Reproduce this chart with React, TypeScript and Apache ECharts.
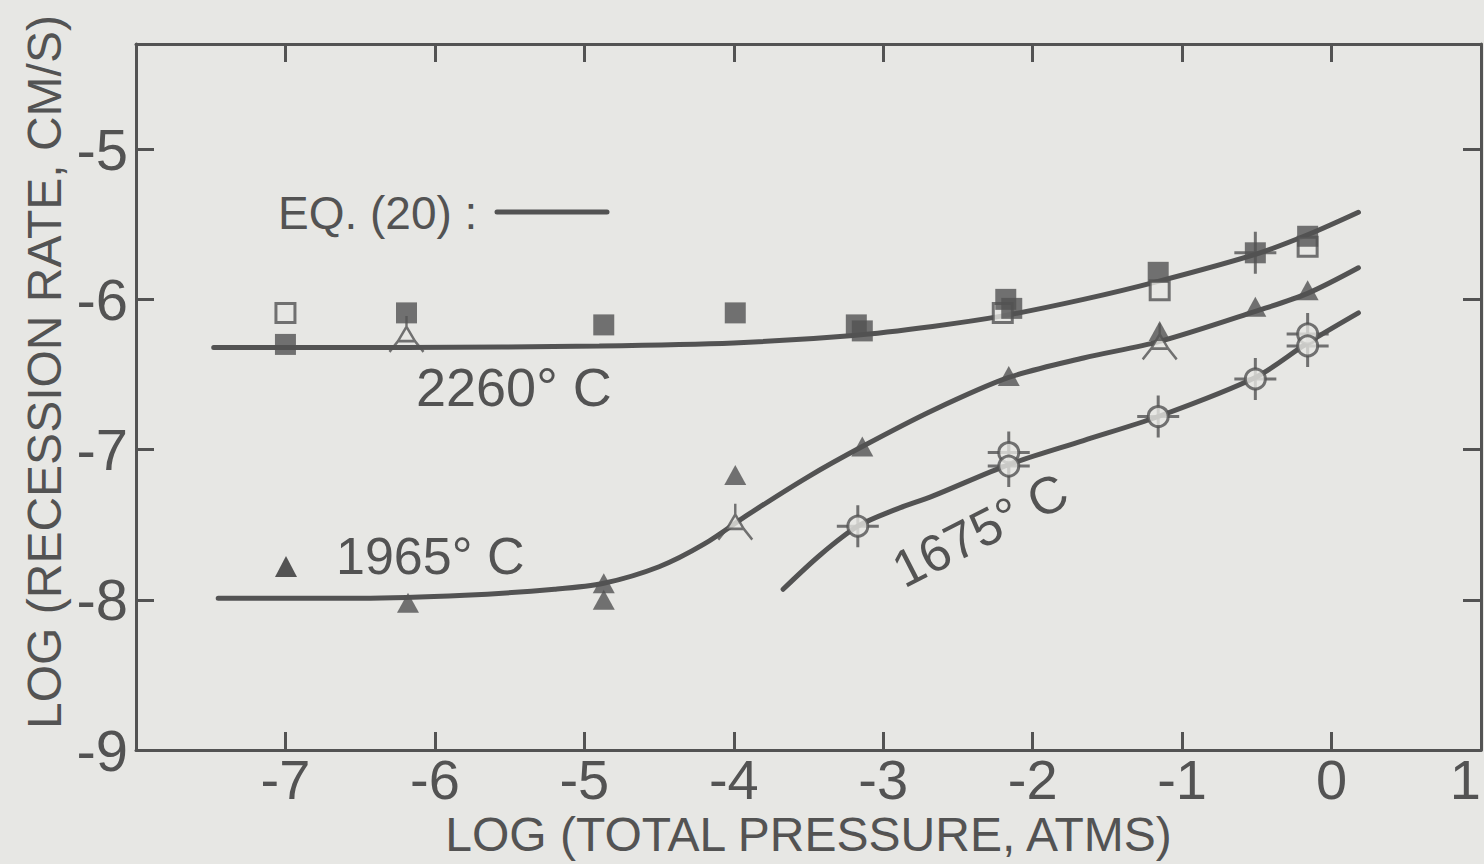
import React, { useEffect, useRef } from "react";
import * as echarts from "echarts";

// ---------- data ----------
const xTickValues = [-7, -6, -5, -4, -3, -2, -1, 0, 1];
const yTickValues = [-9, -8, -7, -6, -5];

// 2260 °C  filled squares
const x2260Filled = [-7.0, -6.19, -4.87, -3.99, -3.18, -3.14, -2.18, -2.14, -1.16, -0.51, -0.16];
const y2260Filled = [-6.3, -6.09, -6.17, -6.09, -6.17, -6.21, -6.0, -6.06, -5.82, -5.69, -5.58];
// 2260 °C  open squares
const x2260Open = [-7.0, -2.2, -1.15, -0.16];
const y2260Open = [-6.09, -6.09, -5.94, -5.65];

// 1965 °C  filled triangles
const x1965Filled = [-6.18, -4.87, -4.87, -3.99, -3.14, -2.16, -1.15, -0.51, -0.16];
const y1965Filled = [-8.02, -7.89, -8.0, -7.17, -6.98, -6.51, -6.21, -6.05, -5.94];
// open triangles with whiskers
const xOpenTri = [-6.19, -3.99, -1.15];
const yOpenTri = [-6.23, -7.48, -6.28];

// 1675 °C  open circles
const x1675 = [-3.17, -2.16, -2.16, -1.16, -0.51, -0.16, -0.16];
const y1675 = [-7.51, -7.02, -7.11, -6.78, -6.53, -6.23, -6.31];

// points carrying a cross (scatter bars)
const xCross = [-3.17, -2.16, -2.16, -1.16, -0.51, -0.16, -0.16, -0.51];
const yCross = [-7.51, -7.02, -7.11, -6.78, -6.53, -6.23, -6.31, -5.69];

// Eq. (20) curves
const curve2260X = [-7.48, -6.2, -4.9, -4.0, -3.2, -2.67, -2.2, -1.66, -1.16, -0.51, -0.16, 0.18];
const curve2260Y = [-6.32, -6.32, -6.31, -6.29, -6.24, -6.18, -6.11, -6.0, -5.88, -5.7, -5.57, -5.42];

const curve1965X = [-7.45, -6.5, -5.8, -5.2, -4.87, -4.5, -4.2, -3.9, -3.5, -3.14, -2.67, -2.16, -1.66, -1.15, -0.51, -0.16, 0.18];
const curve1965Y = [-7.99, -7.99, -7.97, -7.93, -7.89, -7.78, -7.63, -7.43, -7.18, -6.98, -6.74, -6.52, -6.39, -6.28, -6.08, -5.96, -5.79];

const curve1675X = [-3.67, -3.42, -3.17, -2.92, -2.67, -2.16, -1.66, -1.16, -0.51, -0.16, 0.18];
const curve1675Y = [-7.93, -7.7, -7.51, -7.4, -7.31, -7.1, -6.94, -6.78, -6.52, -6.29, -6.09];

// ---------- styling ----------
const INK = "#535353";
const PAPER = "#e7e7e4";
const FONT = "'Liberation Sans', Arial, sans-serif";

const CROSS_PATH = "path://M20 0L20 40M0 20L40 20";
const OPEN_TRI_PATH = "path://M20 0L20 12M20 12L11 28L29 28ZM11 28L2 40M29 28L38 40";

const zip = (xs: number[], ys: number[]) => xs.map((x, i) => [x, ys[i]]);

export default function App() {
  const ref = useRef<HTMLDivElement>(null);

  useEffect(() => {
    if (!ref.current) return;
    document.body.style.margin = "0";
    document.body.style.overflow = "hidden";
    const chart = echarts.init(ref.current, null, { renderer: "svg" });

    const axisLine = { show: true, onZero: false, lineStyle: { color: INK, width: 3 } };
    const axisTick = { show: true, inside: true, length: 18, lineStyle: { color: INK, width: 3 } };

    const curve = (name: string, xs: number[], ys: number[]) => ({
      name,
      type: "line",
      data: zip(xs, ys),
      smooth: 0.3,
      showSymbol: false,
      symbol: "none",
      lineStyle: { color: INK, width: 5, cap: "round" },
      z: 2,
    });

    const option: any = {
      animation: false,
      backgroundColor: PAPER,
      grid: { left: 136, top: 44, right: 3, bottom: 114, containLabel: false, outerBoundsMode: "none" },
      xAxis: [
        {
          type: "value",
          min: -8,
          max: 1,
          interval: 1,
          position: "bottom",
          axisLine,
          axisTick,
          splitLine: { show: false },
          axisLabel: {
            showMinLabel: true,
            showMaxLabel: true,
            alignMaxLabel: "right",
            formatter: (v: number) => (xTickValues.includes(v) ? String(v) : ""),
            fontSize: 56,
            lineHeight: 46,
            color: INK,
            fontFamily: FONT,
            margin: 6,
          },
          name: "LOG (TOTAL PRESSURE, ATMS)",
          nameLocation: "middle",
          nameMoveOverlap: false,
          nameGap: 60,
          nameTextStyle: { fontSize: 48, lineHeight: 48, color: INK, fontFamily: FONT },
        },
        {
          type: "value",
          min: -8,
          max: 1,
          interval: 1,
          position: "top",
          axisLine,
          axisTick,
          splitLine: { show: false },
          axisLabel: { show: false },
        },
      ],
      yAxis: [
        {
          type: "value",
          min: -9,
          max: -4.3,
          interval: 1,
          position: "left",
          axisLine,
          axisTick,
          splitLine: { show: false },
          axisLabel: {
            formatter: (v: number) => (yTickValues.includes(v) ? String(v) : ""),
            fontSize: 58,
            color: INK,
            fontFamily: FONT,
            margin: 8,
          },
          name: "LOG (RECESSION RATE, CM/S)",
          nameLocation: "middle",
          nameMoveOverlap: false,
          nameGap: 68,
          nameTextStyle: { fontSize: 48, color: INK, fontFamily: FONT, padding: [0, 0, 0, 50] },
        },
        {
          type: "value",
          min: -9,
          max: -4.3,
          interval: 1,
          position: "right",
          axisLine,
          axisTick,
          splitLine: { show: false },
          axisLabel: { show: false },
        },
      ],
      series: [
        curve("2260 °C (Eq. 20)", curve2260X, curve2260Y),
        curve("1965 °C (Eq. 20)", curve1965X, curve1965Y),
        curve("1675 °C (Eq. 20)", curve1675X, curve1675Y),
        {
          name: "cross",
          type: "scatter",
          data: zip(xCross, yCross),
          symbol: CROSS_PATH,
          symbolSize: 42,
          itemStyle: { color: "rgba(0,0,0,0)", borderColor: INK, borderWidth: 3 },
          z: 3,
        },
        {
          name: "2260 open",
          type: "scatter",
          data: zip(x2260Open, y2260Open),
          symbol: "rect",
          symbolSize: 19,
          itemStyle: { color: PAPER, borderColor: INK, borderWidth: 3 },
          z: 4,
        },
        {
          name: "open triangle",
          type: "scatter",
          data: zip(xOpenTri, yOpenTri),
          symbol: OPEN_TRI_PATH,
          symbolSize: [34, 36],
          itemStyle: { color: PAPER, borderColor: INK, borderWidth: 2.5 },
          z: 4,
        },
        {
          name: "1675 °C",
          type: "scatter",
          data: zip(x1675, y1675),
          symbol: "circle",
          symbolSize: 20,
          itemStyle: { color: PAPER, borderColor: INK, borderWidth: 3 },
          z: 5,
        },
        {
          name: "2260 °C",
          type: "scatter",
          data: zip(x2260Filled, y2260Filled),
          symbol: "rect",
          symbolSize: 21,
          itemStyle: { color: INK },
          z: 6,
        },
        {
          name: "1965 °C",
          type: "scatter",
          data: zip(x1965Filled, y1965Filled),
          symbol: "triangle",
          symbolSize: [22, 20],
          itemStyle: { color: INK },
          z: 6,
        },
      ],
      graphic: [
        {
          type: "text",
          left: 278,
          top: 190,
          style: { text: "EQ. (20) :", fontSize: 46, fill: INK, fontFamily: FONT },
        },
        {
          type: "line",
          shape: { x1: 497, y1: 212, x2: 607, y2: 212 },
          style: { stroke: INK, lineWidth: 5, lineCap: "round" },
        },
        {
          type: "text",
          x: 416,
          y: 387,
          style: { text: "2260° C", fontSize: 54, fill: INK, fontFamily: FONT, verticalAlign: "middle", align: "left" },
        },
        {
          type: "polygon",
          shape: { points: [[286, 556], [275, 577], [297, 577]] },
          style: { fill: INK },
        },
        {
          type: "text",
          x: 336,
          y: 556,
          style: { text: "1965° C", fontSize: 52, fill: INK, fontFamily: FONT, verticalAlign: "middle", align: "left" },
        },
        {
          type: "text",
          x: 980,
          y: 530,
          rotation: (27 * Math.PI) / 180,
          style: { text: "1675° C", fontSize: 52, fill: INK, fontFamily: FONT, verticalAlign: "middle", align: "center" },
        },
      ],
    };

    chart.setOption(option);
    return () => chart.dispose();
  }, []);

  return (
    <div
      ref={ref}
      style={{ position: "absolute", left: 0, top: 0, width: 1484, height: 864, background: PAPER }}
    />
  );
}
